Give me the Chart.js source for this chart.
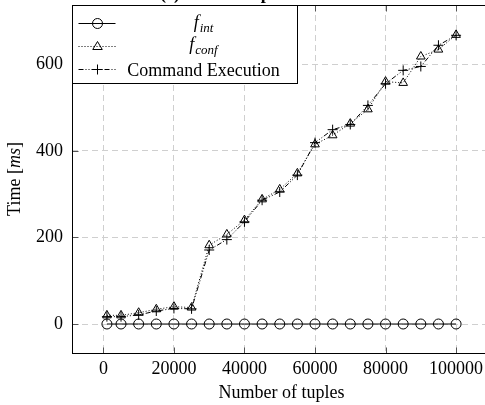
<!DOCTYPE html>
<html>
<head>
<meta charset="utf-8">
<script src="https://cdn.jsdelivr.net/npm/chart.js@4/dist/chart.umd.min.js"></script>
<style>
  html, body { margin: 0; padding: 0; background: #fff; overflow: hidden; width: 485px; height: 405px; }
  #wrap { position: absolute; left: 0; top: -20px; width: 500px; height: 425px; }
</style>
</head>
<body>
<div id="wrap"><canvas id="myChart"></canvas></div>
<script>
/****************** data ******************/
const tuples  = [1000, 5000, 10000, 15000, 20000, 25000, 30000, 35000, 40000, 45000, 50000,
                 55000, 60000, 65000, 70000, 75000, 80000, 85000, 90000, 95000, 100000];
const fInt    = [0, 0, 0, 0, 0, 0, 0, 0, 0, 0, 0, 0, 0, 0, 0, 0, 0, 0, 0, 0, 0];
const fConf   = [20, 20, 26, 34, 40, 38, 182, 207, 240, 288, 311, 348, 415, 436, 463, 496, 560, 557, 618, 634, 668];
const cmdExec = [17, 17, 21, 30, 36, 35, 171, 195, 236, 286, 305, 344, 419, 449, 461, 505, 555, 586, 595, 644, 667];
const xTicks  = [0, 20000, 40000, 60000, 80000, 100000];
const yTicks  = [0, 200, 400, 600];

const SERIF = "'Liberation Serif', 'DejaVu Serif', serif";
const toPoints = ys => tuples.map((x, i) => ({ x: x, y: ys[i] }));

const dotted  = [1, 2];
const dashDot = [5, 2, 1, 2, 1, 2];

/****************** helpers ******************/
function drawMark(ctx, style, x, y, r) {
  ctx.save();
  ctx.strokeStyle = '#000';
  ctx.lineWidth = 1;
  ctx.setLineDash([]);
  ctx.beginPath();
  if (style === 'circle') {
    ctx.arc(x, y, r, 0, Math.PI * 2);
  } else if (style === 'triangle') {
    ctx.moveTo(x, y - r);
    ctx.lineTo(x + r * 0.95, y + r * 0.6);
    ctx.lineTo(x - r * 0.95, y + r * 0.6);
    ctx.closePath();
  } else {
    ctx.moveTo(x - r, y); ctx.lineTo(x + r, y);
    ctx.moveTo(x, y - r); ctx.lineTo(x, y + r);
  }
  ctx.stroke();
  ctx.restore();
}

function drawSub(ctx, main, sub, cx, base) {
  ctx.font = 'italic 18px ' + SERIF;
  const w1 = ctx.measureText(main).width;
  ctx.font = 'italic 13px ' + SERIF;
  const w2 = ctx.measureText(sub).width;
  const x0 = cx - (w1 + w2 + 1) / 2;
  ctx.textAlign = 'left';
  ctx.font = 'italic 18px ' + SERIF;
  ctx.fillText(main, x0, base);
  ctx.font = 'italic 13px ' + SERIF;
  ctx.fillText(sub, x0 + w1 + 1, base + 4);
}

/****************** frame, legend, titles ******************/
const framePlugin = {
  id: 'frame',
  afterDatasetsDraw(chart) {
    const ctx = chart.ctx;
    const a = chart.chartArea;
    const l = Math.round(a.left) + 0.5, t = Math.round(a.top) + 0.5;
    const r = Math.round(a.right) + 0.5, b = Math.round(a.bottom) + 0.5;
    ctx.save();
    // inner tick marks
    ctx.strokeStyle = '#555';
    ctx.lineWidth = 1;
    ctx.beginPath();
    xTicks.forEach(v => {
      const px = Math.round(chart.scales.x.getPixelForValue(v)) + 0.5;
      ctx.moveTo(px, b); ctx.lineTo(px, b - 6);
      ctx.moveTo(px, t); ctx.lineTo(px, t + 6);
    });
    yTicks.forEach(v => {
      const py = Math.round(chart.scales.y.getPixelForValue(v)) + 0.5;
      ctx.moveTo(l, py); ctx.lineTo(l + 6, py);
      ctx.moveTo(r, py); ctx.lineTo(r - 6, py);
    });
    ctx.stroke();
    // axis box
    ctx.strokeStyle = '#000';
    ctx.strokeRect(l, t, r - l, b - t);

    // legend
    const lw = 225, lh = 78;
    ctx.fillStyle = '#fff';
    ctx.fillRect(l, t, lw, lh);
    ctx.strokeRect(l, t, lw, lh);
    const rows = [
      { dash: [], mark: 'circle', y: t + 18 },
      { dash: dotted, mark: 'triangle', y: t + 41 },
      { dash: dashDot, mark: 'cross', y: t + 64 }
    ];
    rows.forEach(row => {
      ctx.save();
      ctx.strokeStyle = '#000';
      ctx.lineWidth = 1;
      ctx.setLineDash(row.dash);
      ctx.beginPath();
      ctx.moveTo(l + 6, row.y);
      ctx.lineTo(l + 43, row.y);
      ctx.stroke();
      ctx.restore();
      drawMark(ctx, row.mark, l + 25, row.y, 5);
    });
    ctx.fillStyle = '#000';
    drawSub(ctx, 'f', 'int', l + 131, t + 22);
    drawSub(ctx, 'f', 'conf', l + 131, t + 44);
    ctx.font = '18px ' + SERIF;
    ctx.textAlign = 'center';
    ctx.fillText('Command Execution', l + 131, t + 70);

    // y axis title, "ms" in italics
    ctx.save();
    ctx.translate(15, (a.top + a.bottom) / 2);
    ctx.rotate(-Math.PI / 2);
    const parts = [['Time [', '18px '], ['ms', 'italic 18px '], [']', '18px ']];
    let total = 0;
    parts.forEach(p => { ctx.font = p[1] + SERIF; total += ctx.measureText(p[0]).width; });
    let x = -total / 2;
    ctx.textAlign = 'left';
    ctx.textBaseline = 'middle';
    parts.forEach(p => {
      ctx.font = p[1] + SERIF;
      ctx.fillText(p[0], x, 0);
      x += ctx.measureText(p[0]).width;
    });
    ctx.restore();

    // sub-figure title, mostly above the visible page
    ctx.font = 'bold 18px ' + SERIF;
    ctx.textAlign = 'left';
    ctx.textBaseline = 'alphabetic';
    ctx.fillText('(c) Time comparison', 160, a.top - 6);
    ctx.restore();
  }
};

/****************** chart ******************/
const ctx = document.getElementById('myChart').getContext('2d');
const myChart = new Chart(ctx, {
  type: 'line',
  data: {
    datasets: [
      {
        label: 'f_int',
        data: toPoints(fInt),
        borderColor: '#000',
        borderWidth: 1,
        pointStyle: 'circle',
        pointRadius: 5,
        pointBorderColor: '#000',
        pointBackgroundColor: 'rgba(0,0,0,0)',
        pointBorderWidth: 1,
        order: 2
      },
      {
        label: 'f_conf',
        data: toPoints(fConf),
        borderColor: '#000',
        borderWidth: 1,
        borderDash: dotted,
        pointStyle: 'triangle',
        pointRadius: 5,
        pointBorderColor: '#000',
        pointBackgroundColor: 'rgba(0,0,0,0)',
        pointBorderWidth: 1,
        order: 1
      },
      {
        label: 'Command Execution',
        data: toPoints(cmdExec),
        borderColor: '#000',
        borderWidth: 1,
        borderDash: dashDot,
        pointStyle: 'cross',
        pointRadius: 5,
        pointBorderColor: '#000',
        pointBorderWidth: 1,
        order: 0
      }
    ]
  },
  options: {
    responsive: true,
    maintainAspectRatio: false,
    devicePixelRatio: 1,
    animation: false,
    layout: { padding: { top: 25, right: 9, left: 0, bottom: 0 } },
    plugins: { legend: { display: false }, tooltip: { enabled: false } },
    scales: {
      x: {
        type: 'linear',
        min: -8900,
        max: 109900,
        afterFit: s => { s.height = 52; },
        afterBuildTicks: s => { s.ticks = xTicks.map(v => ({ value: v })); },
        grid: { color: '#cfcfcf', lineWidth: 1, drawTicks: false },
        border: { display: false, dash: [6, 4] },
        ticks: {
          padding: 5,
          color: '#000',
          font: { family: SERIF, size: 18 },
          callback: v => String(v)
        },
        title: {
          display: true,
          text: 'Number of tuples',
          color: '#000',
          font: { family: SERIF, size: 18 },
          padding: { top: 0, bottom: 1 }
        }
      },
      y: {
        type: 'linear',
        min: -67,
        max: 737,
        afterFit: s => { s.width = 72; },
        afterBuildTicks: s => { s.ticks = yTicks.map(v => ({ value: v })); },
        grid: { color: '#cfcfcf', lineWidth: 1, drawTicks: false },
        border: { display: false, dash: [6, 4] },
        ticks: {
          padding: 9,
          color: '#000',
          font: { family: SERIF, size: 18 },
          callback: v => String(v)
        }
      }
    }
  },
  plugins: [framePlugin]
});
</script>
</body>
</html>
